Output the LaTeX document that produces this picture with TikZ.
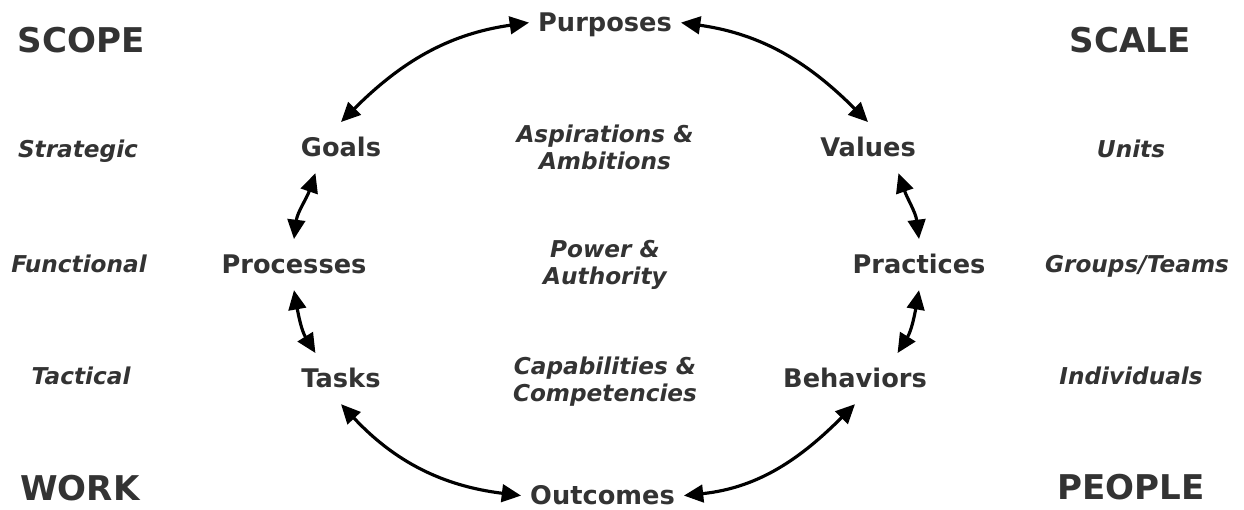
\documentclass[tikz,border=0pt]{standalone}
\usepackage{fontspec}
\setmainfont{DejaVu Sans}
\usetikzlibrary{arrows.meta}
\definecolor{labelgray}{HTML}{333333}

\begin{document}
\begin{tikzpicture}[x=0.02cm,y=0.02cm,
    stage/.style={font=\fontsize{14.6}{17}\selectfont\bfseries, text=labelgray,
      text height=10.7pt, text depth=0pt, inner xsep=5pt, inner ysep=9pt, anchor=base},
    level/.style={font=\fontsize{13.2}{15.6}\selectfont\bfseries\itshape,
      text=labelgray, anchor=base, align=center},
    heading/.style={font=\fontsize{19.4}{22}\selectfont\bfseries, text=labelgray, anchor=base},
    link/.style={line width=1.8pt,
      {Triangle[length=11pt,width=10pt]}-{Triangle[length=11pt,width=10pt]}}]
  %% keep the page at the full width and height
  \useasboundingbox (0,0) rectangle (1244,510);

  %% the cycle, clockwise from the top
  \node [stage] (purposes) at (605,478) {Purposes};
  \node [stage] (values) at (868,353) {Values};
  \node [stage] (practices) at (919,236) {Practices};
  \node [stage] (behaviors) at (855,122) {Behaviors};
  \node [stage] (outcomes) at (602.5,5) {Outcomes};
  \node [stage] (tasks) at (341,122) {Tasks};
  \node [stage] (processes) at (294,236) {Processes};
  \node [stage] (goals) at (341,353) {Goals};

  %% what sits in the middle of each row (base is the last line)
  \node [level] (aspirations) at (605,340) {Aspirations \&\\Ambitions};
  \node [level] (power) at (605,225) {Power \&\\Authority};
  \node [level] (capabilities) at (605,108) {Capabilities \&\\Competencies};

  %% left column
  \node [heading] (scope) at (81,457) {SCOPE};
  \node [level] (strategic) at (78,352) {Strategic};
  \node [level] (functional) at (79,237) {Functional};
  \node [level] (tactical) at (81,125) {Tactical};
  \node [heading] (work) at (80,9) {WORK};

  %% right column
  \node [heading] (scale) at (1130,457) {SCALE};
  \node [level] (units) at (1131,352) {Units};
  \node [level] (groups) at (1137,237) {Groups/Teams};
  \node [level] (individuals) at (1131,125) {Individuals};
  \node [heading] (people) at (1131,10) {PEOPLE};

  %% two-headed links round the loop
  \draw [link] (purposes.west) to[out=188,in=45] (goals.north);
  \draw [link] (purposes.east) to[out=-8,in=135] (values.north);
  \draw [link] (goals.225) to[out=251,in=83] (processes.north);
  \draw [link] (values.320) to[out=289,in=97] (practices.north);
  \draw [link] (processes.south) to[out=280,in=122] (tasks.135);
  \draw [link] (practices.south) to[out=260,in=58] (behaviors.31);
  \draw [link] (tasks.south) to[out=313,in=173] (outcomes.west);
  \draw [link] (outcomes.east) to[out=6,in=225] (behaviors.south);
\end{tikzpicture}
\end{document}
